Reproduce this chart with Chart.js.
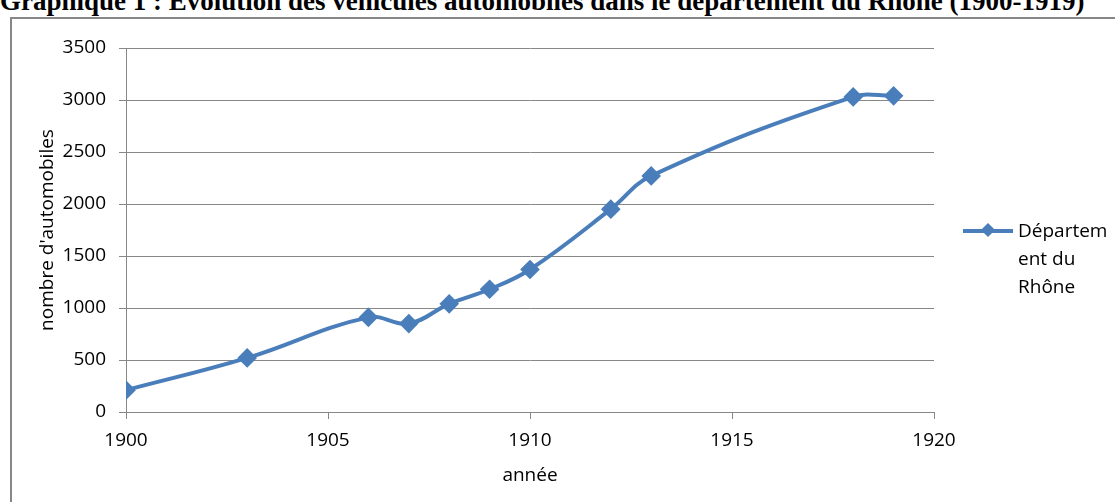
<!DOCTYPE html>
<html>
<head>
<meta charset="utf-8">
<script src="https://cdn.jsdelivr.net/npm/chart.js@4/dist/chart.umd.min.js"></script>
<style>
    html, body { margin: 0; padding: 0; background: #fff; overflow: hidden; }
    #wrap { position: relative; width: 1115px; height: 502px; }
    #title {
        position: absolute; left: 0; top: -14px; white-space: nowrap;
        font-family: 'Liberation Serif', serif; font-weight: bold; font-size: 27px; color: #000;
    }
    #frame {
        position: absolute; left: 10px; top: 17px; width: 1200px; height: 600px;
        border: 2px solid #878787; box-sizing: border-box;
    }
    #chartBox { position: absolute; left: 0; top: 0; width: 1115px; height: 502px; }
    #legend {
        position: absolute; left: 963px; top: 216px;
        font-family: 'Open Sans', sans-serif; font-size: 19px; line-height: 28px; color: #000;
    }
    #legend .key { position: absolute; left: 0; top: 13px; width: 50px; height: 4px; background: #4a7ebb; }
    #legend .key::after {
        content: ''; position: absolute; left: 20px; top: -4px; width: 10px; height: 10px;
        background: #4a7ebb; transform: rotate(45deg);
    }
    #legend .txt { margin-left: 55px; }
</style>
</head>
<body>
<div id="wrap">
    <div id="title">Graphique 1 : Evolution des véhicules automobiles dans le département du Rhône (1900-1919)</div>
    <div id="frame"></div>
    <div id="chartBox"><canvas id="autoChart"></canvas></div>
    <div id="legend"><div class="key"></div><div class="txt">Départem<br>ent du<br>Rhône</div></div>
</div>
<script>
const years = [1900, 1903, 1906, 1907, 1908, 1909, 1910, 1912, 1913, 1918, 1919];
const vehicles = [210, 520, 910, 850, 1040, 1180, 1370, 1950, 2270, 3030, 3040];
const seriesName = 'Département du Rhône';

document.addEventListener('DOMContentLoaded', () => {
    initChart();
});

function initChart() {
    const ctx = document.getElementById('autoChart').getContext('2d');
    const gridColor = '#878787';
    const font = { family: 'Open Sans', size: 19 };

    new Chart(ctx, {
        type: 'line',
        data: {
            datasets: [{
                label: seriesName,
                data: years.map((y, i) => ({ x: y, y: vehicles[i] })),
                borderColor: '#4a7ebb',
                backgroundColor: '#4a7ebb',
                borderWidth: 4,
                tension: 0.4,
                pointStyle: 'rectRot',
                pointRadius: 7,
                pointBackgroundColor: '#4a7ebb',
                pointBorderColor: '#4a7ebb'
            }]
        },
        options: {
            responsive: true,
            maintainAspectRatio: false,
            animation: false,
            layout: { padding: { left: 0, right: 181, top: 48, bottom: 0 } },
            plugins: { legend: { display: false }, tooltip: { enabled: false } },
            scales: {
                x: {
                    type: 'linear',
                    min: 1900,
                    max: 1920,
                    afterFit: (s) => { s.height = 90; },
                    grid: { drawOnChartArea: false, color: gridColor, tickLength: 7 },
                    border: { color: gridColor },
                    ticks: { stepSize: 5, color: '#000', font: font, padding: 10, callback: (v) => String(v) },
                    title: { display: true, text: 'année', color: '#000', font: font, padding: { top: 0, bottom: 15 } }
                },
                y: {
                    min: 0,
                    max: 3500,
                    afterFit: (s) => { s.width = 126; },
                    grid: { color: gridColor, tickLength: 7 },
                    border: { color: gridColor },
                    ticks: { stepSize: 500, color: '#000', font: font, padding: 13, callback: (v) => String(v) },
                    title: { display: true, text: "nombre d'automobiles", color: '#000', font: font, padding: { top: 36, bottom: 0 } }
                }
            }
        }
    });
}
</script>
</body>
</html>
